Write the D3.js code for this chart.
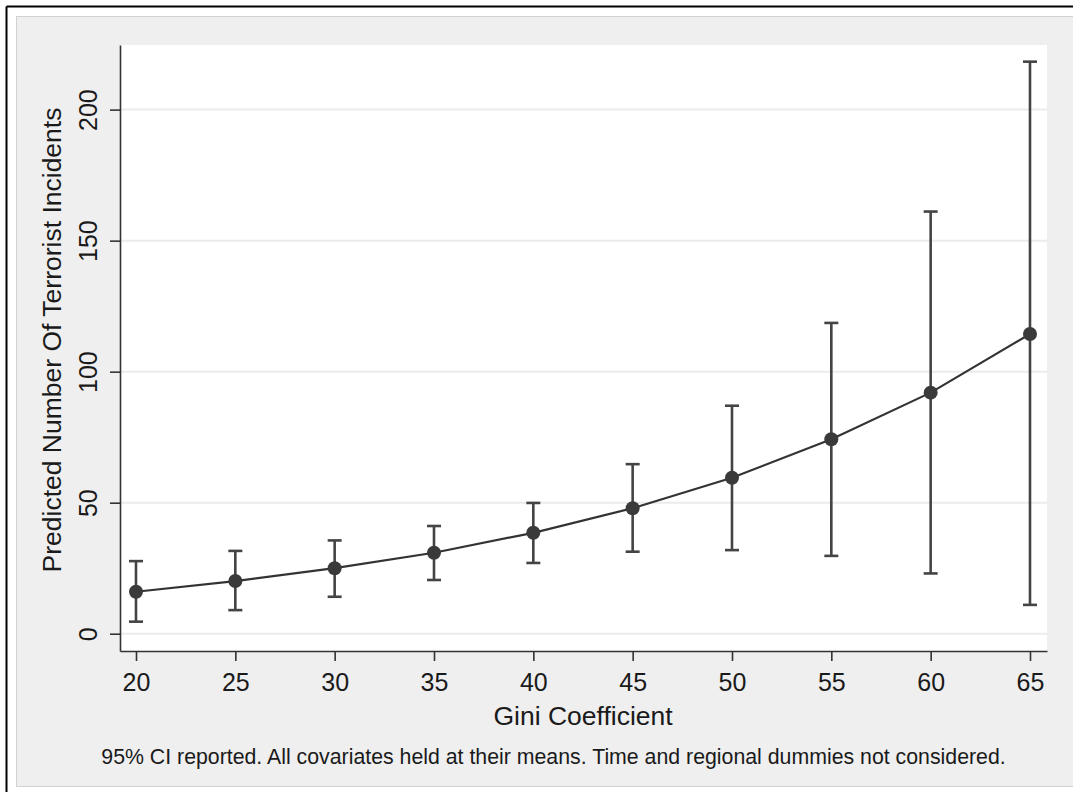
<!DOCTYPE html>
<html>
<head>
<meta charset="utf-8">
<script src="https://cdn.jsdelivr.net/npm/d3@7"></script>
<style>
  body { margin: 0; background: #fff; }
  svg { display: block; font-family: "Liberation Sans", Arial, sans-serif; }
</style>
</head>
<body>
<div id="chart"></div>
<script>
// Gini coefficient and predicted counts with 95% CI
const gini = [20, 25, 30, 35, 40, 45, 50, 55, 60, 65];
const predicted = [16.0, 20.1, 25.0, 30.9, 38.5, 47.9, 59.5, 74.2, 92.0, 114.4];
const ciLower = [4.6, 9.0, 14.1, 20.5, 27.0, 31.3, 31.9, 29.7, 23.0, 11.0];
const ciUpper = [27.7, 31.6, 35.6, 41.1, 49.9, 64.7, 87.0, 118.6, 161.1, 218.3];
const yTicks = [0, 50, 100, 150, 200];
const xTicks = [20, 25, 30, 35, 40, 45, 50, 55, 60, 65];

const width = 1073, height = 792;
const plot = { left: 120, right: 1047, top: 45, bottom: 651 };

const svg = d3.select('#chart').append('svg')
  .attr('width', width).attr('height', height);

// outer frame and graph region
svg.append('rect').attr('x', 16.5).attr('y', 16.5).attr('width', 1070).attr('height', 770)
  .attr('fill', '#efefef').attr('stroke', '#d2d2d2').attr('stroke-width', 1);
svg.append('line').attr('x1', 6.5).attr('x2', width).attr('y1', 6.5).attr('y2', 6.5)
  .attr('stroke', '#000').attr('stroke-width', 2);
svg.append('line').attr('x1', 6.5).attr('x2', 6.5).attr('y1', 6.5).attr('y2', height)
  .attr('stroke', '#000').attr('stroke-width', 2);

svg.append('rect').attr('x', plot.left).attr('y', plot.top)
  .attr('width', plot.right - plot.left).attr('height', plot.bottom - plot.top)
  .attr('fill', '#fff');

const x = d3.scaleLinear().domain([19.195, 65.856]).range([plot.left, plot.right]);
const y = d3.scaleLinear().domain([-6.6, 224.66]).range([plot.bottom, plot.top]);

// gridlines
svg.append('g').selectAll('line').data(yTicks).join('line')
  .attr('x1', plot.left).attr('x2', plot.right)
  .attr('y1', d => y(d)).attr('y2', d => y(d))
  .attr('stroke', '#ebebeb').attr('stroke-width', 2);

// axes
const xAxis = svg.append('g')
  .attr('transform', `translate(0,${plot.bottom})`)
  .call(d3.axisBottom(x).tickValues(xTicks).tickSize(10).tickSizeOuter(0).tickPadding(12));
const yAxis = svg.append('g')
  .attr('transform', `translate(${plot.left},0)`)
  .call(d3.axisLeft(y).tickValues(yTicks).tickSize(10).tickSizeOuter(0));

[xAxis, yAxis].forEach(g => {
  g.select('.domain').attr('stroke', '#333').attr('stroke-width', 1.6);
  g.selectAll('.tick line').attr('stroke', '#333').attr('stroke-width', 1.6);
  g.selectAll('.tick text').attr('fill', '#1a1a1a').attr('font-size', 25)
    .attr('font-family', '"Liberation Sans", Arial, sans-serif');
});
xAxis.selectAll('.tick text').attr('dy', '0.71em');
yAxis.selectAll('.tick text')
  .attr('x', null).attr('dy', 0)
  .attr('text-anchor', 'middle')
  .attr('transform', 'translate(-23,0) rotate(-90)');

// error bars
const data = gini.map((g, i) => ({ g, p: predicted[i], lo: ciLower[i], hi: ciUpper[i] }));
const bars = svg.append('g').attr('stroke', '#444').attr('stroke-width', 2.6);
bars.selectAll('.stem').data(data).join('line')
  .attr('x1', d => x(d.g)).attr('x2', d => x(d.g))
  .attr('y1', d => y(d.lo)).attr('y2', d => y(d.hi));
bars.selectAll('.capHi').data(data).join('line')
  .attr('x1', d => x(d.g) - 7).attr('x2', d => x(d.g) + 7)
  .attr('y1', d => y(d.hi)).attr('y2', d => y(d.hi));
bars.selectAll('.capLo').data(data).join('line')
  .attr('x1', d => x(d.g) - 7).attr('x2', d => x(d.g) + 7)
  .attr('y1', d => y(d.lo)).attr('y2', d => y(d.lo));

// connecting line and markers
const line = d3.line().x(d => x(d.g)).y(d => y(d.p));
svg.append('path').datum(data).attr('d', line)
  .attr('fill', 'none').attr('stroke', '#333').attr('stroke-width', 2.2);
svg.append('g').selectAll('circle').data(data).join('circle')
  .attr('cx', d => x(d.g)).attr('cy', d => y(d.p)).attr('r', 7)
  .attr('fill', '#3a3a3a');

// titles
svg.append('text').attr('x', 583).attr('y', 725)
  .attr('text-anchor', 'middle').attr('font-size', 26.5).attr('fill', '#1a1a1a')
  .text('Gini Coefficient');
svg.append('text').attr('transform', 'translate(61,340) rotate(-90)')
  .attr('text-anchor', 'middle').attr('font-size', 26.5).attr('fill', '#1a1a1a')
  .text('Predicted Number Of Terrorist Incidents');
svg.append('text').attr('x', 553.5).attr('y', 764)
  .attr('text-anchor', 'middle').attr('font-size', 21.3).attr('fill', '#1a1a1a')
  .text('95% CI reported. All covariates held at their means. Time and regional dummies not considered.');
</script>
</body>
</html>
